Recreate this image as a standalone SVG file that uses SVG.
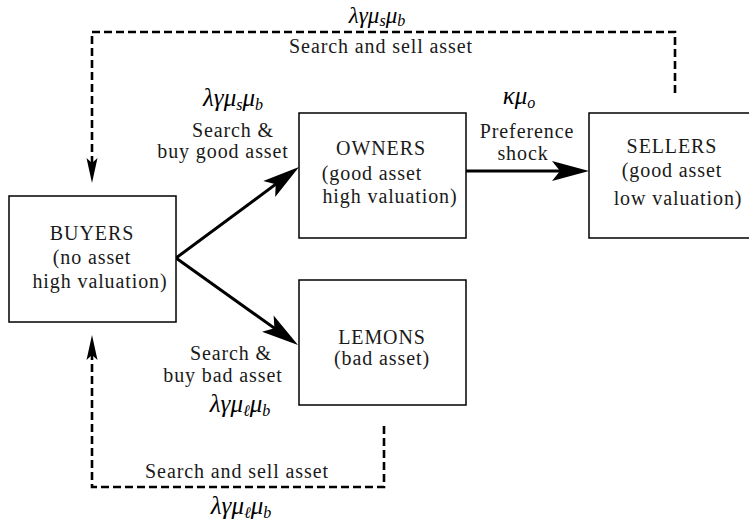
<svg xmlns="http://www.w3.org/2000/svg" width="749" height="529" viewBox="0 0 749 529">
<style>
.box{fill:#fff;stroke:#000;stroke-width:1.5}
.t{font-family:'Liberation Serif',Tinos,'Noto Serif','DejaVu Serif',FreeSerif,'Times New Roman',Times,serif;font-size:20px;letter-spacing:0.9px;fill:#1a1a1a;text-anchor:middle}
.m{font-family:'Liberation Serif',Tinos,'Noto Serif','DejaVu Serif',FreeSerif,'Times New Roman',Times,serif;font-size:25px;font-style:italic;fill:#000;text-anchor:middle}
.sub{font-size:16px}
.solid{fill:none;stroke:#000;stroke-width:3}
.dash{fill:none;stroke:#000;stroke-width:2.6;stroke-dasharray:8 4}
</style>
<defs>
<marker id="big" markerUnits="userSpaceOnUse" orient="auto" markerWidth="60" markerHeight="30" refX="0" refY="0" viewBox="-20 -15 60 30" overflow="visible">
<path d="M20,0 L-17,-10 L-9,0 L-17,10 Z" fill="#000"/>
</marker>
<marker id="small" markerUnits="userSpaceOnUse" orient="auto" markerWidth="40" markerHeight="20" refX="0" refY="0" viewBox="-20 -10 40 20" overflow="visible">
<path d="M10,0 L-15,-5.5 L-10,0 L-15,5.5 Z" fill="#000"/>
</marker>
</defs>
<g id="connectors">
<line class="solid" x1="176" y1="258" x2="282.9" y2="178.9" marker-end="url(#big)"/>
<line class="solid" x1="176" y1="258" x2="281.7" y2="333.4" marker-end="url(#big)"/>
<line class="solid" x1="466" y1="171" x2="569" y2="171" marker-end="url(#big)"/>
<path class="dash" d="M675,93 L675,32 L92,32 L92,173" marker-end="url(#small)"/>
<path class="dash" d="M384,426 L384,487 L92,487 L92,345" marker-end="url(#small)"/>
</g>
<g id="labels">
<text class="m" x="377" y="23" style="font-size:23px">λγμ<tspan class="sub" dy="3">s</tspan><tspan dy="-3">μ</tspan><tspan class="sub" dy="3">b</tspan></text>
<text class="t" x="381" y="53">Search and sell asset</text>
<text class="m" x="233" y="106">λγμ<tspan class="sub" dy="4">s</tspan><tspan dy="-4">μ</tspan><tspan class="sub" dy="4">b</tspan></text>
<text class="t" x="233" y="137">Search &amp;</text>
<text class="t" x="223" y="158">buy good asset</text>
<text class="m" x="519" y="104">κμ<tspan class="sub" dy="4">o</tspan></text>
<text class="t" x="527" y="138">Preference</text>
<text class="t" x="523" y="160">shock</text>
<text class="t" x="231" y="360">Search &amp;</text>
<text class="t" x="223" y="382">buy bad asset</text>
<text class="m" x="240" y="412">λγμ<tspan class="sub" dy="4">ℓ</tspan><tspan dy="-4">μ</tspan><tspan class="sub" dy="4">b</tspan></text>
<text class="t" x="237" y="478">Search and sell asset</text>
<text class="m" x="241" y="514">λγμ<tspan class="sub" dy="4">ℓ</tspan><tspan dy="-4">μ</tspan><tspan class="sub" dy="4">b</tspan></text>
</g>
<g id="buyers">
<rect class="box" x="9" y="196" width="167" height="126"/>
<text class="t" x="92" y="240">BUYERS</text>
<text class="t" x="92" y="264">(no asset</text>
<text class="t" x="100" y="288">high valuation)</text>
</g>
<g id="owners">
<rect class="box" x="299" y="113" width="167" height="125"/>
<text class="t" x="381" y="155">OWNERS</text>
<text class="t" x="372" y="180">(good asset</text>
<text class="t" x="390" y="203">high valuation)</text>
</g>
<g id="lemons">
<rect class="box" x="299" y="280" width="167" height="125"/>
<text class="t" x="382" y="344">LEMONS</text>
<text class="t" x="382" y="365">(bad asset)</text>
</g>
<g id="sellers">
<rect class="box" x="589" y="113" width="170" height="125"/>
<text class="t" x="672" y="153">SELLERS</text>
<text class="t" x="672" y="177">(good asset</text>
<text class="t" x="678" y="205">low valuation)</text>
</g>
</svg>
